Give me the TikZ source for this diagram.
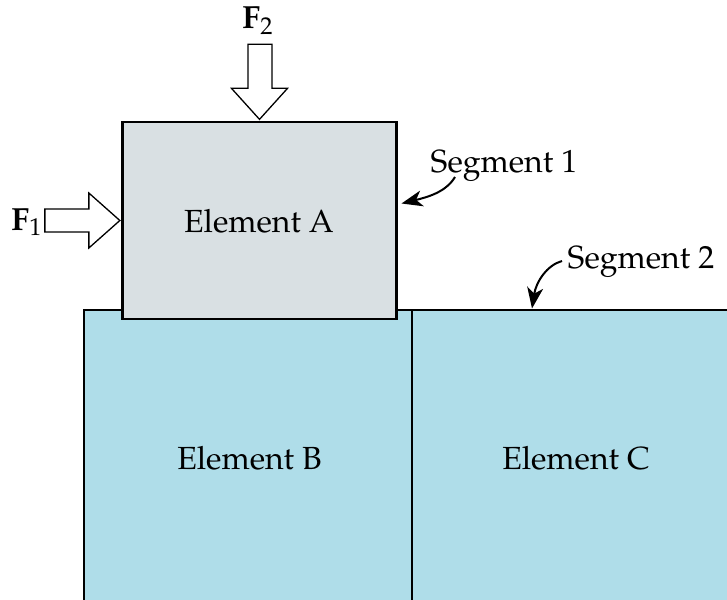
\documentclass[tikz,border=0pt]{standalone}
\usepackage[T1]{fontenc}
\usepackage{mathpazo}
\usetikzlibrary{arrows.meta,calc}
\definecolor{agray}{RGB}{217,224,227}
\definecolor{bblue}{RGB}{175,221,233}
\tikzset{
  elemA/.style={draw=black, line width=2.3pt, fill=agray, rectangle, inner sep=0pt,
    minimum width=274pt, minimum height=197pt},
  elemBC/.style={fill=bblue, rectangle, inner sep=0pt, draw=none},
  border/.style={line width=2pt, black},
  blockarrow/.style={draw=black, line width=1.3pt, fill=white, line join=miter},
  lbl/.style={font=\fontsize{32}{37}\selectfont, inner sep=0pt},
  pointer/.style={line width=2pt, black, -{Stealth[length=21pt,width=16pt,inset=6pt]}}
}
\begin{document}
\begin{tikzpicture}[x=1pt,y=-1pt]
\useasboundingbox (0,0) rectangle (727,599);
% lower elements
\node[elemBC, minimum width=328pt, minimum height=320pt, anchor=north west] (B) at (84,309.5) {};
\node[elemBC, minimum width=330pt, minimum height=320pt, anchor=north west] (C) at (412,309.5) {};
\draw[border] (B.south west) -- (B.north west) -- (C.north east);
\draw[border] (C.north west) -- (C.south west);
\node[lbl] (Btext) at (249.5,458) {Element B};
\node[lbl] (Ctext) at (576,458) {Element C};
% element A
\node[elemA] (A) at (259.5,220.5) {};
\node[lbl, anchor=base] (Atext) at (259,232) {Element A};
% force F2
\coordinate (f2tip) at ($(A.north)+(0,-1.5)$);
\draw[blockarrow] ($(f2tip)+(-11.5,-75)$) -- ($(f2tip)+(12.5,-75)$) -- ($(f2tip)+(12.5,-31)$)
  -- ($(f2tip)+(28,-31)$) -- (f2tip) -- ($(f2tip)+(-28,-31)$) -- ($(f2tip)+(-11.5,-31)$) -- cycle;
\node[lbl, anchor=base] (F2) at (257.5,29) {$\mathbf{F}_2$};
% force F1
\coordinate (f1tip) at ($(A.west)+(-1.5,0)$);
\draw[blockarrow] ($(f1tip)+(-75,-11.5)$) -- ($(f1tip)+(-31,-11.5)$) -- ($(f1tip)+(-31,-27.5)$)
  -- (f1tip) -- ($(f1tip)+(-31,27.5)$) -- ($(f1tip)+(-31,11.5)$) -- ($(f1tip)+(-75,11.5)$) -- cycle;
\node[lbl, anchor=base] (F1) at (26.5,230) {$\mathbf{F}_1$};
% segment labels
\node[lbl, anchor=base west] (S1) at (430.5,172.5) {Segment 1};
\node[lbl, anchor=base west] (S2) at (567.5,268) {Segment 2};
\coordinate (s1start) at (455,177);
\coordinate (s1end) at (401.5,203.5);
\coordinate (s2start) at (562,261);
\coordinate (s2end) at (532,308.5);
\draw[pointer] (s1start) .. controls (446,192) and (428,197) .. (s1end);
\draw[pointer] (s2start) .. controls (547,265) and (536,282) .. (s2end);
\end{tikzpicture}
\end{document}
